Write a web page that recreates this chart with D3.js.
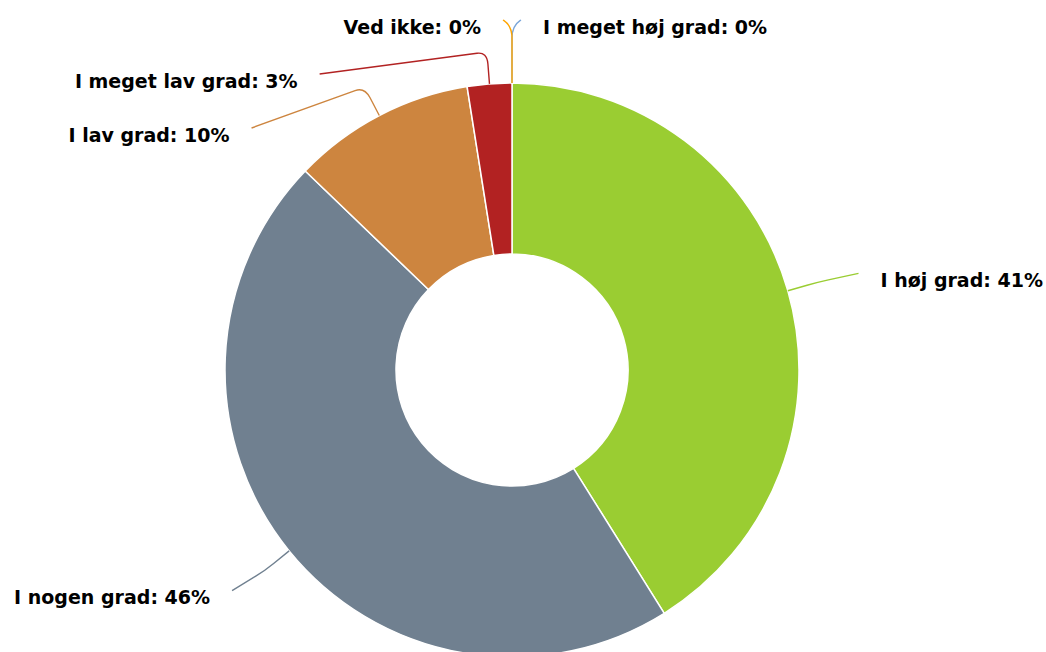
<!DOCTYPE html>
<html>
<head>
<meta charset="utf-8">
<script src="https://cdn.jsdelivr.net/npm/d3@7"></script>
<style>
  html, body { margin: 0; padding: 0; background: #fff; }
  svg { display: block; }
</style>
</head>
<body>
<svg id="chart" width="1046" height="652"></svg>
<script>
// ---- data ----
const categories = ["I meget høj grad", "I høj grad", "I nogen grad", "I lav grad", "I meget lav grad", "Ved ikke"];
const values = [0, 41.1, 46.1, 10.3, 2.5, 0];
const colors = ["#7aa6da", "#9acd32", "#708090", "#cd853f", "#b22222", "#ffa500"];

// ---- layout ----
const W = 1046, H = 652;
const cx = 512, cy = 370;
const outerR = 287, innerR = 116;
const labelR = 350;      // radius of the label circle
const breakExt = 32;     // radial extension of connector before it bends
const spacing = 54;      // min vertical spacing between labels
const topMin = 20;
const spreadX = 1.03;
const minDx = 9;
const textGap = 22;

const svg = d3.select("#chart");
const g = svg.append("g").attr("transform", `translate(${cx},${cy})`);

const pie = d3.pie().sort(null).value(d => d.value).startAngle(0).endAngle(2 * Math.PI);
const data = categories.map((c, i) => ({ name: c, value: values[i], color: colors[i] }));
const arcs = pie(data);

const arc = d3.arc().innerRadius(innerR).outerRadius(outerR);

g.selectAll("path.slice")
  .data(arcs.filter(a => a.value > 0))
  .join("path")
  .attr("class", "slice")
  .attr("d", arc)
  .attr("fill", d => d.data.color)
  .attr("stroke", "#fff")
  .attr("stroke-width", 1.5)
  .attr("stroke-linejoin", "round");

// label positions
const polar = (r, a) => [r * Math.sin(a), -r * Math.cos(a)];
const total = d3.sum(values);
const labels = arcs.map(a => {
  const mid = (a.startAngle + a.endAngle) / 2;
  const side = mid < Math.PI ? 1 : -1;
  const idealY = -labelR * Math.cos(mid);
  return { a, mid, side, y: idealY };
});

[1, -1].forEach(side => {
  const ls = labels.filter(l => l.side === side).sort((p, q) => p.y - q.y);
  let prev = -Infinity;
  ls.forEach(l => {
    const y = Math.max(l.y, topMin - cy, prev + spacing);
    l.y = y;
    prev = y;
  });
});

labels.forEach(l => {
  const dy = l.y;
  const dx = Math.max(minDx, spreadX * Math.sqrt(Math.max(0, labelR * labelR - dy * dy)));
  l.x = l.side * dx;
});

// connectors
function connector(l) {
  const P = polar(outerR, l.mid);
  const bR = l.a.value === 0 ? labelR - 6 : outerR + breakExt;
  const B = polar(bR, l.mid);
  const E = [l.x, l.y];
  const p = d3.path();
  const d1 = Math.hypot(B[0] - P[0], B[1] - P[1]);
  const d2 = Math.hypot(E[0] - B[0], E[1] - B[1]);
  const r1 = Math.min(12, d1 / 2);
  const r2 = Math.min(10, d2);
  const u1 = [(B[0] - P[0]) / d1, (B[1] - P[1]) / d1];
  const u2 = [(E[0] - B[0]) / d2, (E[1] - B[1]) / d2];
  p.moveTo(P[0], P[1]);
  p.lineTo(B[0] - u1[0] * r1, B[1] - u1[1] * r1);
  p.quadraticCurveTo(B[0], B[1], B[0] + u2[0] * r2, B[1] + u2[1] * r2);
  p.lineTo(E[0], E[1]);
  return p.toString();
}

g.selectAll("path.conn")
  .data(labels)
  .join("path")
  .attr("class", "conn")
  .attr("d", connector)
  .attr("fill", "none")
  .attr("stroke", d => d.a.data.color)
  .attr("stroke-width", 1.4);

g.selectAll("text.lbl")
  .data(labels)
  .join("text")
  .attr("class", "lbl")
  .attr("x", d => d.x + d.side * textGap)
  .attr("y", d => d.y + 13.5)
  .attr("text-anchor", d => d.side > 0 ? "start" : "end")
  .attr("font-family", "'DejaVu Sans', Verdana, sans-serif")
  .attr("font-weight", "bold")
  .attr("font-size", 19)
  .attr("fill", "#000")
  .text(d => `${d.a.data.name}: ${Math.round(d.a.data.value / total * 100)}%`);
</script>
</body>
</html>
